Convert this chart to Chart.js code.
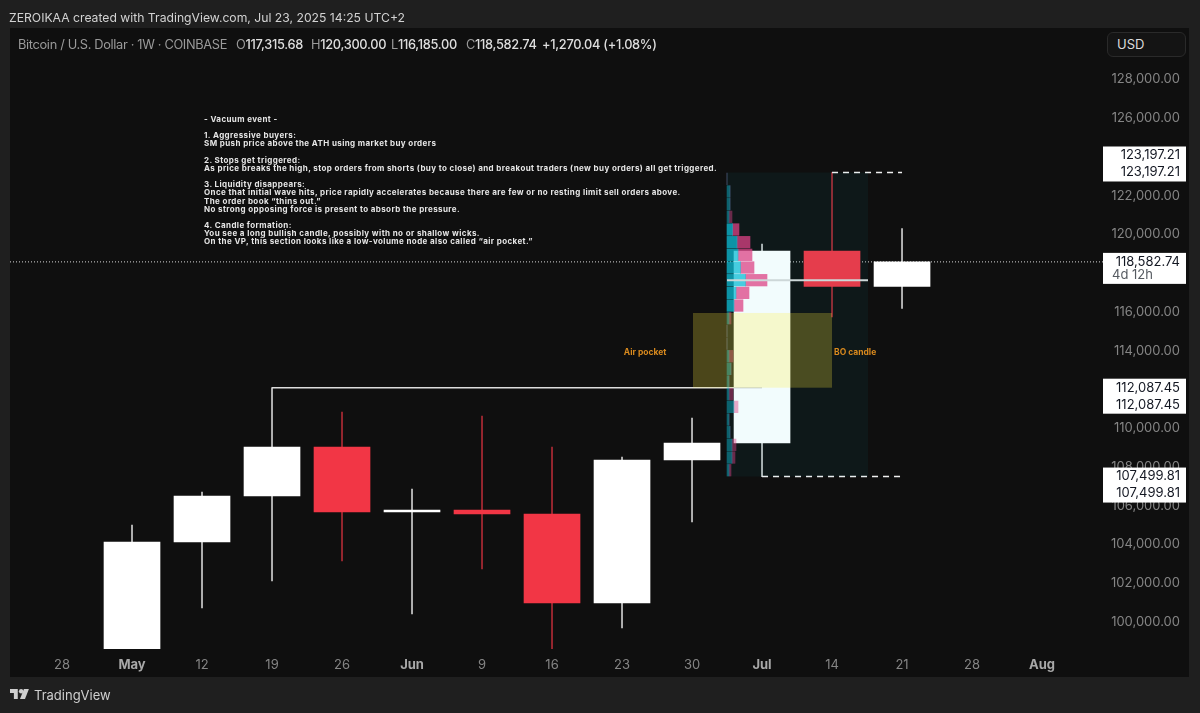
<!DOCTYPE html>
<html>
<head>
<meta charset="utf-8">
<title>Bitcoin / U.S. Dollar</title>
<script src="https://cdn.jsdelivr.net/npm/chart.js@4"></script>
<style>
  html, body { margin: 0; padding: 0; width: 1200px; height: 713px; overflow: hidden; background: #1f1f1f; font-family: Inter, "Noto Sans", sans-serif; }
  #pane { position: absolute; left: 10px; top: 28px; width: 1179px; height: 649px; background: #0f0f0f; }
  #wrap { position: absolute; left: 0; top: 0; width: 1200px; height: 713px; }
  .t { position: absolute; white-space: pre; font-size: 12.2px; line-height: 16px; }
  #credit { left: 9px; top: 10px; color: #d2d2d2; }
  .lg { top: 37px; color: #9a9a9a; font-size: 12.8px; letter-spacing: -0.33px; }
  .lg b { font-weight: 500; color: #dedede; letter-spacing: -0.3px; }
  #usd { position: absolute; left: 1107px; top: 32px; width: 79px; height: 25px; box-sizing: border-box; border: 1px solid #2a2a2a; border-radius: 6px; background: #141414; color: #dcdcdc; font-size: 13px; line-height: 23px; padding-left: 9px; }
  #notes { position: absolute; left: 204px; top: 115px; color: #e6e6e6; font-size: 8px; font-weight: 700; line-height: 8.15px; white-space: pre; letter-spacing: 0.4px; }
  #brand { left: 34px; top: 686px; color: #cfcfcf; font-size: 13px; line-height: 18px; }
  #logo { position: absolute; left: 10px; top: 689px; }
</style>
</head>
<body>
<div id="pane"></div>
<div id="wrap"><canvas id="chart" width="1200" height="713"></canvas></div>
<div class="t" id="credit">ZEROIKAA created with TradingView.com, Jul 23, 2025 14:25 UTC+2</div>
<div class="t lg" style="left:18px">Bitcoin / U.S. Dollar · 1W · COINBASE</div>
<div class="t lg" style="left:236px">O<b>117,315.68</b></div>
<div class="t lg" style="left:311px">H<b>120,300.00</b></div>
<div class="t lg" style="left:391px">L<b>116,185.00</b></div>
<div class="t lg" style="left:466px">C<b>118,582.74</b></div>
<div class="t lg" style="left:542px"><b>+1,270.04 (+1.08%)</b></div>
<div id="usd">USD</div>
<div id="notes">- Vacuum event -

1. Aggressive buyers:
SM push price above the ATH using market buy orders

2. Stops get triggered:
As price breaks the high, stop orders from shorts (buy to close) and breakout traders (new buy orders) all get triggered.

3. Liquidity disappears:
Once that initial wave hits, price rapidly accelerates because there are few or no resting limit sell orders above.
The order book “thins out.”
No strong opposing force is present to absorb the pressure.

4. Candle formation:
You see a long bullish candle, possibly with no or shallow wicks.
On the VP, this section looks like a low-volume node also called “air pocket.”</div>
<svg id="logo" width="20" height="10" viewBox="0 0 36 18"><path fill="#cfcfcf" d="M14 18H7V7H0V0h14v18Z"/><circle fill="#cfcfcf" cx="20" cy="4" r="4"/><path fill="#cfcfcf" d="M18 18L25 0h9l-7 18h-9Z"/></svg>
<div class="t" id="brand">TradingView</div>

<script>
// x axis
const weekLabels = ['28', 'May', '12', '19', '26', 'Jun', '9', '16', '23', '30', 'Jul', '14', '21', '28', 'Aug'];
const priceTicks = [100000, 102000, 104000, 106000, 108000, 110000, 112000, 114000, 116000, 118000, 120000, 122000, 124000, 126000, 128000];

// candles, one per week starting at "May"
const candleWeeks = [1, 2, 3, 4, 5, 6, 7, 8, 9, 10, 11, 12];
const candleOpen = [98400, 104121, 106496, 109026, 105670, 105773, 105567, 100972, 108354, 109232, 119144, 117315.68];
const candleClose = [104121, 106496, 109026, 105670, 105773, 105567, 100972, 108354, 109232, 119144, 117315.68, 118582.74];
const candleHigh = [104999, 106702, 112087.45, 110833, 106857, 110626, 109026, 108509, 110523, 119506, 123197.21, 120300];
const candleLow = [98400, 100714, 102108, 103140, 100404, 102727, 98400, 99681, 105154, 107499.81, 115737, 116185];

// volume profile rows
const vpPrices = [122870, 122216, 121562, 120908, 120254, 119600, 118946, 118292, 117638, 116984, 116330, 115676, 115022, 114368, 113714, 113060, 112406, 111752, 111098, 110444, 109790, 109136, 108482, 107827];
const vpBuy = [0, 3, 3, 2, 5.5, 10, 11, 13.5, 18.5, 9, 7, 2, 0, 0, 2, 4, 2, 2, 7, 2, 3, 5, 5, 2];
const vpSell = [0, 0, 0, 3, 6.5, 13, 14, 13.5, 21.5, 13, 9, 2, 0, 0, 4, 0, 0, 4, 4, 0, 0, 4, 3, 2];
const vpValueArea = [4, 10];
const vpPoc = 117638;

// drawn levels
const lastClose = 118582.74;
const rangeHigh = 123197.21;
const rangeLow = 107499.81;
const breakoutLevel = 112087.45;
const pocketTop = 115944;

const tagPrices = [123197.21, 118582.74, 112087.45, 107499.81];
const tagTexts = [['123,197.21', '123,197.21'], ['118,582.74', '4d 12h'], ['112,087.45', '112,087.45'], ['107,499.81', '107,499.81']];
const tagDirection = [-1, 1, 1, 1];

const WHITE = '#ffffff';
const RED = '#f23645';
const FONT = 'Inter, "Noto Sans", sans-serif';

const isUp = (i) => candleClose[i] >= candleOpen[i];
const vpColor = (rgb) => (ctx) => {
  const inside = ctx.dataIndex >= vpValueArea[0] && ctx.dataIndex <= vpValueArea[1];
  return `rgba(${rgb}, ${inside ? 0.75 : 0.45})`;
};
const isMonth = (ctx) => ctx.tick && isNaN(weekLabels[ctx.tick.value]);

const overlays = {
  id: 'overlays',
  afterDatasetsDraw(chart) {
    const { ctx, scales: { x, y } } = chart;
    const zone = (x0, x1, p0, p1, color) => {
      ctx.fillStyle = color;
      ctx.fillRect(x.getPixelForValue(x0), y.getPixelForValue(p0), x.getPixelForValue(x1) - x.getPixelForValue(x0), y.getPixelForValue(p1) - y.getPixelForValue(p0));
    };
    ctx.save();
    zone(9.5, 11.514, rangeHigh, rangeLow, 'rgba(0, 188, 212, 0.05)');
    zone(9.014, 11, pocketTop, breakoutLevel, 'rgba(255, 235, 59, 0.25)');
    ctx.fillStyle = '#d98a1e';
    ctx.font = `700 8.5px ${FONT}`;
    ctx.textAlign = 'center';
    ctx.textBaseline = 'middle';
    ctx.fillText('Air pocket', x.getPixelForValue(8.33), y.getPixelForValue(113930));
    ctx.fillText('BO candle', x.getPixelForValue(11.33), y.getPixelForValue(113930));
    ctx.restore();
  },
  afterDraw(chart) {
    const { ctx, chartArea, scales: { y } } = chart;
    ctx.save();
    tagPrices.forEach((price, i) => {
      const py = y.getPixelForValue(price);
      const lines = tagTexts[i];
      const isTimer = lines[1] === '4d 12h';
      const second = py + tagDirection[i] * (isTimer ? 13.5 : 17);
      ctx.fillStyle = WHITE;
      ctx.fillRect(chartArea.right, Math.min(py, second) - 9, 83, isTimer ? 31 : 35);
      ctx.textAlign = 'right';
      ctx.textBaseline = 'middle';
      ctx.font = `13px ${FONT}`;
      ctx.fillStyle = '#131722';
      ctx.fillText(lines[0], y.right, py);
      if (isTimer) {
        ctx.textAlign = 'left';
        ctx.fillStyle = '#555a60';
        ctx.fillText(lines[1], chartArea.right + 9, second);
      } else {
        ctx.fillText(lines[1], y.right, second);
      }
    });
    ctx.restore();
  },
};

new Chart(document.getElementById('chart'), {
  type: 'bar',
  data: {
    datasets: [
      {
        label: 'Last price',
        type: 'line',
        order: 10,
        data: [{ x: -0.743, y: lastClose }, { x: 14.871, y: lastClose }],
        borderColor: '#d8d8d8',
        borderWidth: 1,
        borderDash: [1, 2],
        pointRadius: 0,
      },
      {
        label: 'Wicks',
        order: 6,
        grouped: false,
        barThickness: 1,
        data: candleWeeks.map((w, i) => ({ x: w, y: [candleLow[i], candleHigh[i]] })),
        backgroundColor: candleWeeks.map((w, i) => (isUp(i) ? 'rgba(255, 255, 255, 0.8)' : 'rgba(242, 54, 69, 0.7)')),
      },
      {
        label: 'Bodies',
        order: 5,
        grouped: false,
        barThickness: 56,
        data: candleWeeks.map((w, i) => ({ x: w, y: [candleOpen[i], candleClose[i]] })),
        backgroundColor: candleWeeks.map((w, i) => (isUp(i) ? WHITE : RED)),
      },
      {
        label: 'Breakout level',
        type: 'line',
        order: 4,
        data: [{ x: 3, y: breakoutLevel }, { x: 10, y: breakoutLevel }],
        borderColor: '#dddddd',
        borderWidth: 1.5,
        pointRadius: 0,
      },
      {
        label: 'Range high',
        type: 'line',
        order: 4,
        data: [{ x: 11, y: rangeHigh }, { x: 12, y: rangeHigh }],
        borderColor: '#f0f0f0',
        borderWidth: 1.5,
        borderDash: [6, 5],
        pointRadius: 0,
      },
      {
        label: 'Range low',
        type: 'line',
        order: 4,
        data: [{ x: 10, y: rangeLow }, { x: 12, y: rangeLow }],
        borderColor: '#f0f0f0',
        borderWidth: 1.5,
        borderDash: [6, 5],
        pointRadius: 0,
      },
      {
        label: 'VP buy',
        indexAxis: 'y',
        order: 3,
        grouped: false,
        barThickness: 11.6,
        xAxisID: 'xVol',
        data: vpPrices.map((p, i) => ({ x: vpBuy[i], y: p })),
        backgroundColor: vpColor('14, 190, 215'),
      },
      {
        label: 'VP sell',
        indexAxis: 'y',
        order: 3,
        grouped: false,
        barThickness: 11.6,
        xAxisID: 'xVol',
        data: vpPrices.map((p, i) => ({ x: vpSell[i], y: p })),
        backgroundColor: vpColor('233, 60, 130'),
      },
      {
        label: 'POC',
        type: 'line',
        order: 2,
        data: [{ x: 9.5, y: vpPoc }, { x: 11.514, y: vpPoc }],
        borderColor: '#d9d9d9',
        borderWidth: 2,
        pointRadius: 0,
      },
    ],
  },
  options: {
    responsive: false,
    animation: false,
    layout: { padding: { left: 10, top: 28, right: 20, bottom: 36 } },
    plugins: { legend: { display: false }, tooltip: { enabled: false } },
    scales: {
      x: {
        type: 'linear',
        offset: false,
        min: -0.743,
        max: 14.871,
        grid: { display: false },
        border: { display: false },
        afterBuildTicks: (scale) => { scale.ticks = weekLabels.map((l, i) => ({ value: i })); },
        afterFit: (scale) => { scale.height = 28; },
        ticks: {
          autoSkip: false,
          maxRotation: 0,
          padding: 0,
          color: (ctx) => (isMonth(ctx) ? '#a8a8a8' : '#858585'),
          font: (ctx) => ({ family: FONT, size: 13, weight: isMonth(ctx) ? '700' : '400' }),
          callback: (value) => weekLabels[value],
        },
      },
      xVol: {
        type: 'linear',
        offset: false,
        display: false,
        stacked: true,
        min: -717,
        max: 376,
      },
      y: {
        type: 'linear',
        offset: false,
        position: 'right',
        min: 98597,
        max: 130657,
        grid: { display: false },
        border: { display: false },
        afterBuildTicks: (scale) => { scale.ticks = priceTicks.map((value) => ({ value })); },
        afterFit: (scale) => { scale.width = 77; },
        ticks: {
          crossAlign: 'far',
          color: '#858585',
          font: { family: FONT, size: 13 },
          callback: (value) => value.toLocaleString('en-US', { minimumFractionDigits: 2 }),
        },
      },
    },
  },
  plugins: [overlays],
});
</script>
</body>
</html>
